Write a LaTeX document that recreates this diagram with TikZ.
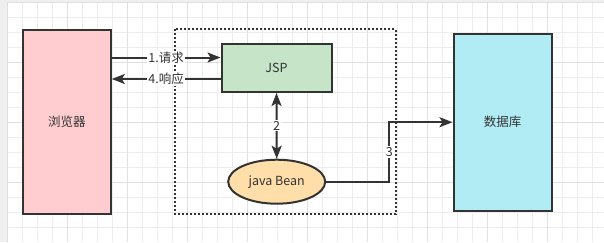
\documentclass[tikz,border=0pt]{standalone}
\usepackage{fontspec}
\setmainfont{Noto Sans CJK SC}
\usetikzlibrary{arrows.meta,calc,shapes.geometric}
\usepackage{xcolor}
\definecolor{inkgray}{HTML}{333333}
\definecolor{margingray}{HTML}{EFEFEF}
\definecolor{gridminor}{HTML}{EDEDED}
\definecolor{gridmajor}{HTML}{E0E0E0}
\definecolor{browserpink}{HTML}{FFCCCF}
\definecolor{jspgreen}{HTML}{C6E5C8}
\definecolor{beanorange}{HTML}{FFDEAA}
\definecolor{dbcyan}{HTML}{B1EBF3}

\begin{document}
\begin{tikzpicture}[x=1pt, y=-1pt,
  box/.style={draw=inkgray, line width=2pt, text=inkgray, font=\fontsize{12.5}{14}\selectfont},
  link/.style={draw=inkgray, line width=2pt, -{Stealth[length=13pt, width=10pt, inset=3pt]}},
  lbl/.style={fill=white, text=inkgray, inner sep=1pt, font=\fontsize{12.5}{14}\selectfont}]
  \useasboundingbox (0,0) rectangle (604,242);
  % Canvas with grid
  \fill[margingray] (0,0) rectangle (604,242);
  \fill[white] (7.5,2.3) rectangle (604,242);
  \foreach \x in {7.5,22.5,...,604} \draw[gridminor, line width=0.8pt] (\x,2.3) -- (\x,242);
  \foreach \y in {2.3,17.3,...,242} \draw[gridminor, line width=0.8pt] (7.5,\y) -- (604,\y);
  \foreach \x in {7.5,67.5,...,604} \draw[gridmajor, line width=0.8pt] (\x,2.3) -- (\x,242);
  \foreach \y in {2.3,62.3,...,242} \draw[gridmajor, line width=0.8pt] (7.5,\y) -- (604,\y);
  % Dotted frame round JSP and bean
  \draw[inkgray, line width=2pt, dash pattern=on 2pt off 2pt] (175,29.3) rectangle (395.7,214.3);
  % Boxes
  \node[box, fill=browserpink, minimum width=88, minimum height=184] (browser) at (66.8,122.2) {浏览器};
  \node[box, fill=jspgreen, minimum width=110, minimum height=48] (jsp) at (276.5,68) {JSP};
  \node[box, fill=beanorange, ellipse, minimum width=97, minimum height=44, inner sep=0pt] (bean) at (276.7,181.7) {java Bean};
  \node[box, fill=dbcyan, minimum width=98, minimum height=177] (db) at (502.5,122.2) {数据库};
  % Request and response
  \coordinate (req) at ($(jsp.west)+(0,-10.5)$);
  \coordinate (resp) at ($(jsp.west)+(0,11)$);
  \draw[link] (browser.east |- req) -- node[lbl]{1.请求} (req);
  \draw[link] (resp) -- node[lbl]{4.响应} (browser.east |- resp);
  % JSP <-> bean
  \draw[link, {Stealth[length=13pt, width=10pt, inset=3pt]}-{Stealth[length=13pt, width=10pt, inset=3pt]}] (jsp.south) -- node[lbl]{2} (bean.north);
  % Bean to database
  \coordinate (turn) at ($(bean.east)!0.5!(db.west)$);
  \draw[link] (bean.east) -- (bean.east -| turn) -- node[lbl]{3} (turn |- db.west) -- (db.west);
\end{tikzpicture}
\end{document}
